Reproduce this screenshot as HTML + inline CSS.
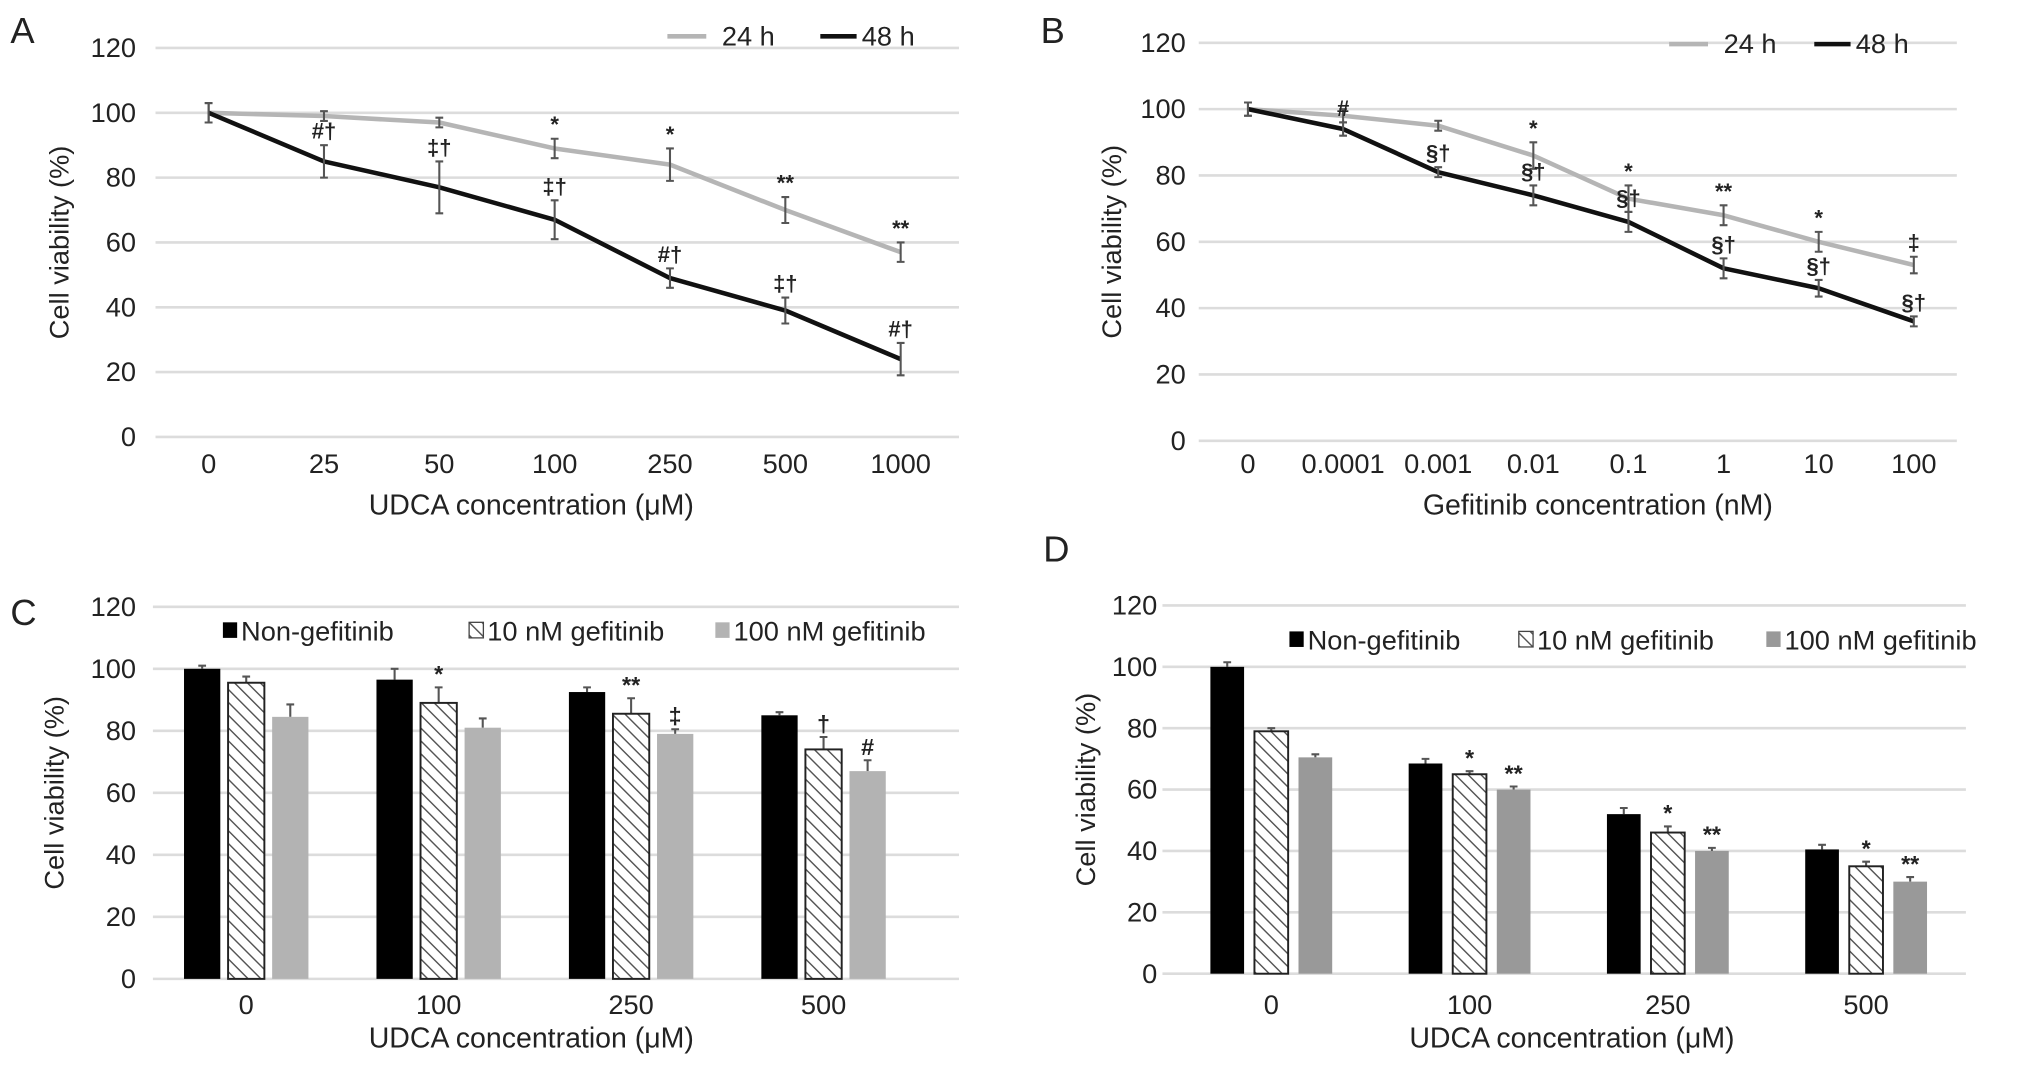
<!DOCTYPE html>
<html><head><meta charset="utf-8"><style>
html,body{margin:0;padding:0;background:#fff;}
svg{display:block;font-family:"Liberation Sans Narrow","Liberation Sans",sans-serif;}
</style></head><body>
<svg id="fig" width="2032" height="1080" viewBox="0 0 1568 833" preserveAspectRatio="none" xmlns="http://www.w3.org/2000/svg">
<defs>
<pattern id="hatch" patternUnits="userSpaceOnUse" width="7" height="7" patternTransform="rotate(-45)">
<rect width="7" height="7" fill="#fff"/><line x1="0" y1="0" x2="0" y2="7" stroke="#555" stroke-width="2.2"/>
</pattern>
</defs>
</svg>
<script>
// Panel A data
const aCats=["0","25","50","100","250","500","1000"];
const a24=[100,99,97,89,84,70,57];
const a24Err=[3,1.5,1.5,3,5,4,3];
const a48=[100,85,77,67,49,39,24];
const a48Err=[3,5,8,6,3,4,5];
const a24Ann=["","","","*","*","**","**"];
const a48Ann=["","#†","‡†","‡†","#†","‡†","#†"];
// Panel B data
const bCats=["0","0.0001","0.001","0.01","0.1","1","10","100"];
const b24=[100,98,95,86,73,68,60,53];
const b24Err=[2,2,1.5,4,4,3,3,2.5];
const b48=[100,94,81,74,66,52,46,36];
const b48Err=[2,2,1.5,3,3,3,2.5,1.5];
const b24Ann=["","","","*","*","**","*","‡"];
const b48Ann=["","#","§†","§†","§†","§†","§†","§†"];
// Panel C data
const cCats=["0","100","250","500"];
const cNon=[100,96.5,92.5,85];
const c10=[95.5,89,85.5,74];
const c100=[84.5,81,79,67];
const cNonErr=[1,3.5,1.5,1];
const c10Err=[2,5,5,4];
const c100Err=[4,3,1.5,3.5];
const c10Ann=["","*","**","†"];
const c100Ann=["","","‡","#"];
// Panel D data
const dCats=["0","100","250","500"];
const dNon=[100,68.5,52,40.5];
const d10=[79,65,46,35];
const d100=[70.5,60,40,30];
const dNonErr=[1.5,1.5,2,1.5];
const d10Err=[1,1,2,1.5];
const d100Err=[1,1,1,1.5];
const d10Ann=["","*","*","*"];
const d100Ann=["","**","**","**"];
const yTicks=[0,20,40,60,80,100,120];

const svg=document.getElementById('fig');
const NS="http://www.w3.org/2000/svg";
function mk(tag,attrs,parent){const e=document.createElementNS(NS,tag);for(const k in attrs)e.setAttribute(k,attrs[k]);(parent||svg).appendChild(e);return e;}
function txt(s,x,y,size,anchor,parent,extra){const t=mk('text',Object.assign({x:x,y:y,'font-size':size,'text-anchor':anchor||'middle',fill:'#222'},extra||{}),parent);t.textContent=s;return t;}

function axes(g,cfg){
  const y=v=>cfg.y0+(cfg.y120-cfg.y0)*v/120;
  yTicks.forEach(v=>{
    const l=mk('line',{x1:cfg.gx0,x2:cfg.gx1,y1:y(v),y2:y(v),stroke:'#dcdcdc','stroke-width':2},g);
    
    
    const t=txt(String(v),cfg.ytx,y(v)+7,21,'end',g);
    
    
  });
  const yt=txt('Cell viability (%)',0,0,21,'middle',g,{transform:`translate(${cfg.ytitleX},${(cfg.y0+cfg.y120)/2+ (cfg.ytOff||0)}) rotate(-90)`,'font-family':'Liberation Sans, sans-serif'});
  
  
  const xt=txt(cfg.xtitle,cfg.xtitleX,cfg.xtitleY,22,'middle',g);
  
  
  const pl=txt(cfg.label,cfg.lx,cfg.ly,28,'start',g,{'font-family':'Liberation Sans, sans-serif'});
  
  
  return y;
}

function linePanel(name,cfg,cats,s24,e24,s48,e48,ann24,ann48){
  const g=mk('g',{});
  
  
  const y=axes(g,cfg);
  const x=i=>cfg.x0+i*cfg.dx;
  cats.forEach((c,i)=>{const t=txt(c,x(i),cfg.xty,21,'middle',g);
    
    });
  [[s24,e24,'#b5b5b5','24h',ann24],[s48,e48,'#111','48h',ann48]].forEach(([s,e,col,nm,ann])=>{
    const p=mk('polyline',{points:s.map((v,i)=>x(i)+','+y(v)).join(' '),fill:'none',stroke:col,'stroke-width':3.5,'stroke-linejoin':'round'},g);
    
    
    s.forEach((v,i)=>{
      const eb=mk('path',{d:`M${x(i)},${y(v+e[i])}V${y(v-e[i])}M${x(i)-3},${y(v+e[i])}h6M${x(i)-3},${y(v-e[i])}h6`,stroke:'#555','stroke-width':1.6,fill:'none'},g);
      
      
      if(ann[i]){const a=txt(ann[i],x(i),y(v+e[i])-5,17,'middle',g,{'font-weight':'bold'});
        
        }
    });
  });
  const l1=mk('line',{x1:cfg.lg[0],x2:cfg.lg[0]+30,y1:cfg.lgy,y2:cfg.lgy,stroke:'#b5b5b5','stroke-width':3.5},g);
  
  
  const t1=txt('24 h',cfg.lg[0]+42,cfg.lgy+7,21,'start',g);
  
  
  const l2=mk('line',{x1:cfg.lg[1],x2:cfg.lg[1]+28,y1:cfg.lgy,y2:cfg.lgy,stroke:'#111','stroke-width':3.5},g);
  
  
  const t2=txt('48 h',cfg.lg[1]+32,cfg.lgy+7,21,'start',g);
  
  
}

function barPanel(name,cfg,cats,s1,s2,s3,e1,e2,e3,ann2,ann3){
  const g=mk('g',{});
  
  
  const y=axes(g,cfg);
  const x=i=>cfg.x0+i*cfg.dx;
  cats.forEach((c,i)=>{const t=txt(c,x(i),cfg.xty,21,'middle',g);
    
    });
  const series=[[s1,e1,'#000','none','non-gefitinib',null],[s2,e2,'url(#hatch)','#222','10nm-gefitinib',ann2],[s3,e3,cfg.gray,'none','100nm-gefitinib',ann3]];
  series.forEach(([s,e,fill,stroke,nm,ann],k)=>{
    s.forEach((v,i)=>{
      const cx=x(i)+cfg.off[k];
      const eb=mk('path',{d:`M${cx},${y(v)}V${y(v+e[i])}M${cx-3},${y(v+e[i])}h6`,stroke:'#555','stroke-width':1.6},g);
      
      
      const r=mk('rect',{x:cx-cfg.bw/2,y:y(v),width:cfg.bw,height:y(0)-y(v),fill:fill,stroke:stroke,'stroke-width':1.5},g);
      
      
      if(ann&&ann[i]){const a=txt(ann[i],cx,y(v+e[i])-4,18,'middle',g,{'font-weight':'bold'});
        
        }
    });
  });
  const names=['Non-gefitinib','10 nM gefitinib','100 nM gefitinib'];
  const fills=['#000','url(#hatch)',cfg.gray];
  names.forEach((n,k)=>{
    const sw=mk('rect',{x:cfg.lg[k],y:cfg.lgy-6,width:11,height:12,fill:fills[k],stroke:k==1?'#444':'none','stroke-width':1},g);
    
    
    const t=txt(n,cfg.lg[k]+14,cfg.lgy+8,21,'start',g);
    
    
  });
}

linePanel('panel-a',{y0:337,y120:37,gx0:120,gx1:740,ytx:105,ytitleX:53,xtitle:'UDCA concentration (μM)',xtitleX:410,xtitleY:397,label:'A',lx:8,ly:33,x0:161,dx:89,xty:365,lg:[515,633],lgy:28},aCats,a24,a24Err,a48,a48Err,a24Ann,a48Ann);
linePanel('panel-b',{y0:340,y120:33,gx0:925,gx1:1510,ytx:915,ytitleX:865,xtitle:'Gefitinib concentration (nM)',xtitleX:1233,xtitleY:397,label:'B',lx:803,ly:33,x0:963,dx:73.4,xty:365,lg:[1288,1400],lgy:34},bCats,b24,b24Err,b48,b48Err,b24Ann,b48Ann);
barPanel('panel-c',{y0:755,y120:468,gx0:118,gx1:740,ytx:105,ytitleX:49,xtitle:'UDCA concentration (μM)',xtitleX:410,xtitleY:808,label:'C',lx:8,ly:482,x0:190,dx:148.5,xty:782,off:[-34,0,34],bw:28,gray:'#b3b3b3',lg:[172,362,552],lgy:486},cCats,cNon,c10,c100,cNonErr,c10Err,c100Err,c10Ann,c100Ann);
barPanel('panel-d',{y0:751,y120:467,gx0:897,gx1:1517,ytx:893,ytitleX:845,xtitle:'UDCA concentration (μM)',xtitleX:1213,xtitleY:808,label:'D',lx:805,ly:433,x0:981,dx:153,xty:782,off:[-34,0,34],bw:26,gray:'#999',lg:[995,1172,1363],lgy:493},dCats,dNon,d10,d100,dNonErr,d10Err,d100Err,d10Ann,d100Ann);
</script>
</body></html>
